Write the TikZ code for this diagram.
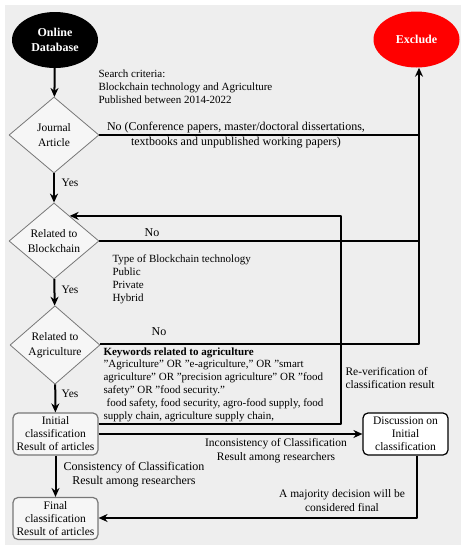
\documentclass[tikz,border=0pt]{standalone}
\usepackage{fontspec}
\setmainfont{Liberation Serif}
\usetikzlibrary{shapes.geometric,arrows.meta}
\definecolor{panel}{HTML}{EEEEEE}
\definecolor{shapefill}{HTML}{F6F6F6}
\definecolor{shapeline}{HTML}{777777}
\definecolor{exitred}{HTML}{FF0000}
\begin{document}
\begin{tikzpicture}[x=1pt, y=-1pt, font=\fontsize{11}{13}\selectfont, line join=round,
    flow/.style={line width=2pt, -{Stealth[length=9pt,width=8pt]}},
    link/.style={line width=2pt},
    terminal/.style={ellipse, minimum width=86pt, minimum height=56pt, text=white, font=\fontsize{12}{15}\selectfont\bfseries, align=center},
    decision/.style={diamond, draw=shapeline, fill=shapefill, line width=0.8pt, minimum width=90pt, minimum height=76pt, inner sep=0pt, align=center, font=\fontsize{11.5}{15}\selectfont},
    stage/.style={rectangle, rounded corners=5pt, draw=shapeline, fill=shapefill, line width=1.2pt, minimum width=85pt, minimum height=42pt, inner sep=1pt, align=center, font=\fontsize{11.5}{13}\selectfont},
    biglabel/.style={font=\fontsize{12}{14}\selectfont, align=center}]
    \useasboundingbox (0,0) rectangle (466,550);
    \fill[panel] (5,5) rectangle (461,545);
    % shapes
    \node[terminal, fill=black] (db) at (55,40) {Online\\Database};
    \node[terminal, fill=exitred] (excl) at (416.5,39.5) {Exclude};
    \node[decision] (journal) at (54,135) {Journal\\Article};
    \node[decision] (chain) at (54,241) {Related to\\Blockchain};
    \node[decision] (agri) at (55,345) {Related to\\Agriculture};
    \node[stage] (init) at (55.5,434) {Initial\\classification\\Result of articles};
    \node[stage] (final) at (55.5,518.5) {Final\\classification\\Result of articles};
    \node[stage, draw=black, fill=white] (disc) at (405.5,434) {Discussion on\\Initial\\classification};
    \path (419,344) coordinate (exitfoot)
          (341,424) coordinate (reverif)
          (417,518) coordinate (majority);
    % connectors
    \draw[flow] (db) -- (journal);
    \draw[flow] (journal) -- (chain);
    \draw[flow] (chain) -- (agri);
    \draw[flow] (agri) -- (init);
    \draw[flow] (init) -- (final);
    \draw[link] (journal.east) -- (journal.east -| exitfoot);
    \draw[link] (chain.east) -- (chain.east -| exitfoot);
    \draw[flow] (agri.east |- exitfoot) -- (exitfoot) -- (exitfoot |- excl.south);
    \draw[flow] ([yshift=10pt]init.east) -- (reverif) |- (chain.58);
    \draw[flow] (init.east) -- (disc.west);
    \draw[flow] ([xshift=11.5pt]disc.south) -- (majority) -- (final.east |- majority);
    % labels
    \foreach \y in {183,290,394}\node[font=\fontsize{11.5}{13}\selectfont] at (70,\y) {Yes};
    \node[anchor=north west, align=left] (crit) at (95,66) {Search criteria:\\Blockchain technology and Agriculture\\Published between 2014-2022};
    \node[biglabel] (no1) at (236,128) {No (Conference papers, master/doctoral dissertations,};
    \node[biglabel] (no1b) at (236,143) {textbooks and unpublished working papers)};
    \node[biglabel] (no2) at (152,233) {No};
    \node[biglabel] (no3) at (159,332) {No};
    \node[anchor=north west, align=left] (types) at (109,251) {Type of Blockchain technology\\Public\\Private\\Hybrid};
    \node[anchor=north west, align=left, font=\fontsize{11}{12.8}\selectfont] (keys) at (100,344) {\textbf{Keywords related to agriculture}\\
        "Agriculture" OR "e-agriculture," OR "smart\\
        agriculture" OR "precision agriculture" OR "food\\
        safety" OR "food security."\\
        \hphantom{i}food safety, food security, agro-food supply, food\\
        supply chain, agriculture supply chain,};
    \node[anchor=north west, align=left, font=\fontsize{11.5}{13.5}\selectfont] (recheck) at (342,363.5) {Re-verification of\\classification result};
    \node[biglabel, font=\fontsize{11.5}{14.5}\selectfont] (incons) at (276,450.5) {Inconsistency of Classification\\Result among researchers};
    \node[biglabel] (cons) at (134,474.5) {Consistency of Classification\\Result among researchers};
    \node[biglabel, font=\fontsize{11.5}{14}\selectfont] (major) at (342,501) {A majority decision will be\\considered final};
\end{tikzpicture}
\end{document}
